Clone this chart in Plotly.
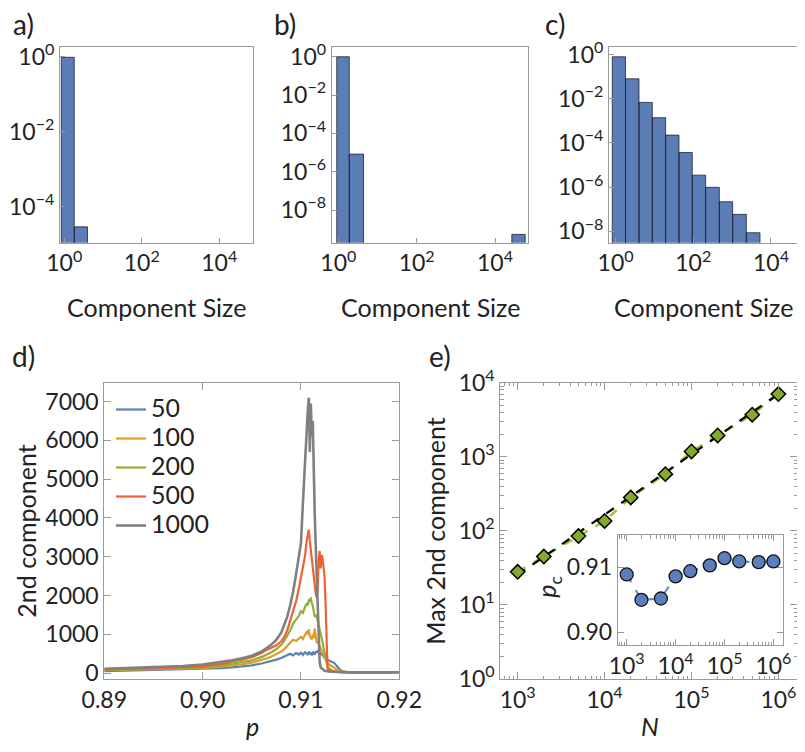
import plotly.graph_objects as go

# ---------------- data ----------------
# a)-c) component size histograms: bin edges (component size) and bar heights
A_EDGES = [0.84, 1.81, 3.98]
A_HEIGHTS = [0.97, 2.9e-5]

B_EDGES = [0.91, 1.9, 4.4]
B_HEIGHTS = [0.99, 8.3e-6]
B_GIANT_EDGES = [26900, 58900]
B_GIANT_HEIGHTS = [5.4e-10]

C_EDGES = [0.82, 1.8, 4.0, 8.8, 19.4, 42.8, 94, 208, 468, 1030, 2320, 5210]
C_HEIGHTS = [0.78, 0.079, 0.0068, 1.38e-3, 2.26e-4, 3.7e-5, 3.5e-6, 9.8e-7,
             2.2e-7, 5.9e-8, 8.7e-9]

# d) 2nd largest component vs p for several system sizes
P = [0.890, 0.892, 0.894, 0.896, 0.898, 0.900, 0.902, 0.903, 0.904, 0.905,
     0.906, 0.9065, 0.907, 0.9075, 0.908, 0.9083, 0.9086, 0.9089, 0.9092, 0.9095,
     0.9098, 0.9100, 0.9102, 0.9104, 0.9106, 0.9107, 0.9108, 0.9109, 0.9110, 0.9111,
     0.9112, 0.9113, 0.9114, 0.9115, 0.9116, 0.9117, 0.9118, 0.9119, 0.9120, 0.9121,
     0.9122, 0.9123, 0.9124, 0.9125, 0.9126, 0.9127, 0.9128, 0.9130, 0.9132, 0.9134,
     0.9136, 0.9138, 0.9140, 0.9143, 0.9146, 0.9150, 0.9160, 0.9180, 0.9200]

L50 = [55, 65, 75, 85, 95, 105, 130, 150, 175, 200,
       250, 280, 310, 350, 390, 430, 470, 500, 460, 520,
       480, 530, 470, 540, 500, 470, 560, 490, 530, 460,
       550, 510, 480, 560, 520, 590, 540, 500, 470, 520,
       460, 430, 410, 380, 360, 350, 330, 310, 290, 260,
       200, 130, 80, 40, 30, 20, 12, 8, 5]
L100 = [75, 85, 95, 105, 115, 130, 170, 195, 230, 270,
        340, 380, 430, 490, 560, 620, 700, 780, 860, 830,
        900, 940, 880, 980, 1080, 1000, 1130, 950, 900, 870,
        1000, 900, 1150, 850, 780, 820, 760, 700, 600, 540,
        480, 420, 370, 330, 290, 260, 240, 210, 180, 130,
        90, 60, 45, 35, 25, 20, 15, 10, 8]
L200 = [85, 95, 105, 115, 125, 150, 200, 240, 280, 330,
        420, 470, 540, 620, 730, 830, 950, 1100, 1280, 1380,
        1480, 1600, 1550, 1700, 1800, 1750, 1900, 1850, 1950, 1800,
        1750, 1600, 1450, 1500, 1450, 1350, 1250, 1150, 1050, 950,
        800, 650, 520, 400, 280, 190, 140, 90, 60, 45,
        35, 30, 25, 20, 18, 15, 12, 10, 8]
L500 = [95, 105, 120, 135, 150, 175, 240, 300, 345, 410,
        520, 600, 650, 720, 820, 930, 1100, 1350, 1550, 1850,
        2200, 2450, 2700, 3000, 3450, 3600, 3700, 3400, 3150, 3000,
        2650, 2450, 2300, 2050, 1950, 2200, 2900, 3150, 2700, 3050,
        2950, 2750, 2500, 1800, 500, 120, 80, 60, 50, 40,
        35, 30, 25, 20, 18, 15, 12, 10, 8]
L1000 = [110, 125, 140, 160, 185, 225, 290, 330, 385, 450,
         560, 640, 740, 860, 1050, 1250, 1450, 1750, 2100, 2550,
         3050, 3350, 4400, 5500, 6400, 6800, 7100, 5700, 6950, 6100,
         6500, 5000, 4100, 3300, 2400, 1550, 900, 300, 150, 120,
         100, 80, 65, 55, 50, 45, 42, 38, 35, 32,
         30, 28, 26, 25, 24, 23, 22, 21, 20]
SERIES_NAMES = ["50", "100", "200", "500", "1000"]
SERIES = [L50, L100, L200, L500, L1000]
SERIES_COLORS = ["#5E81B5", "#E19C24", "#8FB032", "#EB6235", "#808080"]

# e) max of 2nd component vs N, inset: p_c vs N
N = [1e3, 2e3, 5e3, 1e4, 2e4, 5e4, 1e5, 2e5, 5e5, 1e6]
MAX2 = [28, 45, 85, 136, 282, 583, 1180, 1940, 3700, 7030]
FIT_N = [1e3, 1e6]
FIT_Y = [25.4, 7030]
PC = [0.9089, 0.9050, 0.9052, 0.9086, 0.9094, 0.9103, 0.9114, 0.9109, 0.9108, 0.9109]

# ---------------- layout helpers ----------------
# the page body has an 8px margin, so the figure is sized to fit inside it
OFF = 8
W, H = 805 - 2 * OFF, 752 - 2 * OFF
FONT = "Lato"
TXT = "#222222"
FRAME = "#9a9a9a"
TICK_SIZE = 23
TITLE_SIZE = 25


def px_x(x):
    return (x - OFF) / W


def px_y(y):
    return 1 - (y - OFF) / H


def xdom(l, r):
    return [px_x(l), min(px_x(r), 1.0)]


def ydom(t, b):
    return [px_y(b), px_y(t)]


def pow_labels(exps):
    out = []
    for e in exps:
        s = str(e) if e >= 0 else "\u2212" + str(-e)
        out.append("10<sup>" + s + "</sup>")
    return out


def bar_polygons(edges, heights):
    xs, ys = [], []
    for i, h in enumerate(heights):
        l, r = edges[i], edges[i + 1]
        xs += [l, l, r, r, l, None]
        ys += [1e-15, h, h, 1e-15, 1e-15, None]
    return xs, ys


fig = go.Figure()

# histograms
hist_sets = [
    ("x", "y", [(A_EDGES, A_HEIGHTS)]),
    ("x2", "y2", [(B_EDGES, B_HEIGHTS), (B_GIANT_EDGES, B_GIANT_HEIGHTS)]),
    ("x3", "y3", [(C_EDGES, C_HEIGHTS)]),
]
for xa, ya, groups in hist_sets:
    xs, ys = [], []
    for edges, heights in groups:
        px, py = bar_polygons(edges, heights)
        xs += px
        ys += py
    fig.add_trace(go.Scatter(
        x=xs, y=ys, xaxis=xa, yaxis=ya, mode="lines", fill="toself",
        fillcolor="#5A7DB5", line=dict(color="rgba(35,35,50,0.8)", width=1),
        showlegend=False, hoverinfo="skip"))

# d) curves
for name, vals, col in zip(SERIES_NAMES, SERIES, SERIES_COLORS):
    fig.add_trace(go.Scatter(
        x=P, y=vals, xaxis="x4", yaxis="y4", mode="lines",
        name="<span style='font-size:25px'>" + name + "</span>",
        line=dict(color=col, width=2.6 if name == "1000" else 2.2)))

# e) main
fig.add_trace(go.Scatter(
    x=N, y=MAX2, xaxis="x5", yaxis="y5", mode="lines",
    line=dict(color="#9CC43E", width=2.5, dash="dash"), showlegend=False))
fig.add_trace(go.Scatter(
    x=FIT_N, y=FIT_Y, xaxis="x5", yaxis="y5", mode="lines",
    line=dict(color="black", width=2.2, dash="dash"), showlegend=False))
fig.add_trace(go.Scatter(
    x=N, y=MAX2, xaxis="x5", yaxis="y5", mode="markers",
    marker=dict(symbol="diamond", size=11, color="#84AA2C",
                line=dict(color="black", width=1.5)), showlegend=False))

# inset
fig.add_trace(go.Scatter(
    x=N, y=PC, xaxis="x6", yaxis="y6", mode="lines+markers",
    line=dict(color="#6B8FCB", width=2.2, dash="dash"),
    marker=dict(size=13, color="#5B7EBE", line=dict(color="#111111", width=1.3)),
    showlegend=False))

tickfont = dict(family=FONT, size=TICK_SIZE, color=TXT)
base_ax = dict(showline=True, linecolor=FRAME, linewidth=1, mirror=True,
               ticks="inside", tickcolor=FRAME, ticklen=5, showgrid=False,
               zeroline=False, tickfont=tickfont, automargin=False)

layout = dict(
    width=W, height=H, margin=dict(l=0, r=0, t=0, b=0, autoexpand=False),
    paper_bgcolor="white", plot_bgcolor="white",
    font=dict(family=FONT, size=TICK_SIZE, color=TXT),
    showlegend=True,
    legend=dict(x=px_x(111), y=px_y(390), xanchor="left", yanchor="top",
                bgcolor="rgba(0,0,0,0)", font=dict(family=FONT, size=20, color=TXT),
                tracegroupgap=0, itemwidth=30),
)

# a, b, c  (frame left/right in page px, log10 x range)
hist_x = [(60, 253.3, [-0.11, 4.88]), (331.7, 528.3, [-0.17, 4.85]), (609, 797, [-0.17, 4.67])]
hist_y = [([-4.96, 0.27], [0, -2, -4]), ([-9.70, 0.52], [0, -2, -4, -6, -8]),
          ([-8.51, 0.35], [0, -2, -4, -6, -8])]
for i in range(3):
    l, r, xr = hist_x[i]
    yr, yex = hist_y[i]
    sfx = "" if i == 0 else str(i + 1)
    layout["xaxis" + sfx] = dict(base_ax, type="log", domain=xdom(l, r), range=xr,
                                 anchor="y" + sfx, tickvals=[1, 100, 10000],
                                 ticktext=pow_labels([0, 2, 4]))
    layout["yaxis" + sfx] = dict(base_ax, type="log", domain=ydom(46.7, 242.7), range=yr,
                                 anchor="x" + sfx, tickvals=[10 ** e for e in yex],
                                 ticktext=pow_labels(yex))

# d
layout["xaxis4"] = dict(base_ax, mirror="ticks", domain=xdom(104.3, 399.3), range=[0.89, 0.92],
                        anchor="y4", tickvals=[0.89, 0.90, 0.91, 0.92],
                        ticktext=["0.89", "0.90", "0.91", "0.92"], ticklen=7)
layout["yaxis4"] = dict(base_ax, mirror="ticks", domain=ydom(383.3, 679), range=[-150, 7470],
                        anchor="x4", tickvals=[0, 1000, 2000, 3000, 4000, 5000, 6000, 7000],
                        ticklen=7)

# e
minor = dict(ticks="inside", ticklen=3.5, tickcolor=FRAME, dtick="D1", showgrid=False)
layout["xaxis5"] = dict(base_ax, mirror="ticks", type="log", domain=xdom(500.3, 797),
                        range=[2.80, 6.214], anchor="y5", tickvals=N[0::3],
                        ticktext=pow_labels([3, 4, 5, 6]), ticklen=7, minor=minor)
layout["yaxis5"] = dict(base_ax, mirror="ticks", type="log", domain=ydom(382.7, 679),
                        range=[0, 4], anchor="x5", tickvals=[1, 10, 100, 1000, 10000],
                        ticktext=pow_labels([0, 1, 2, 3, 4]), ticklen=7, minor=minor)
layout["xaxis6"] = dict(base_ax, mirror="ticks", type="log", domain=xdom(617.7, 782.7),
                        range=[2.816, 6.19], anchor="y6", tickvals=N[0::3],
                        ticktext=pow_labels([3, 4, 5, 6]), ticklen=6, minor=minor)
layout["yaxis6"] = dict(base_ax, mirror="ticks", domain=ydom(535.3, 645),
                        range=[0.89805, 0.91492], anchor="x6", tickvals=[0.90, 0.91],
                        ticktext=["0.90", "0.91"], ticklen=6)

fig.update_layout(**layout)

# titles and panel labels (page pixel positions)
ann = [
    ("Component Size", 156, 306.7, 0),
    ("Component Size", 430.5, 306.7, 0),
    ("Component Size", 703, 306.7, 0),
    ("2nd component", 26, 531.7, -90),
    ("<i>p</i>", 252, 726, 0),
    ("Max 2nd component", 435, 530.7, -90),
    ("<i>N</i>", 650, 726, 0),
    ("<i>p</i><sub>c</sub>", 548, 586.7, -90),
    ("a)", 24, 24, 0),
    ("b)", 285, 24, 0),
    ("c)", 555, 24, 0),
    ("d)", 24, 356, 0),
    ("e)", 440, 356, 0),
]
for text, x, y, ang in ann:
    fig.add_annotation(text=text, x=px_x(x), y=px_y(y), xref="paper", yref="paper",
                       showarrow=False, textangle=ang, xanchor="center", yanchor="middle",
                       borderpad=0,
                       font=dict(family=FONT, size=28 if text.endswith(")") else TITLE_SIZE,
                                 color=TXT))

fig.write_html("out.html")
